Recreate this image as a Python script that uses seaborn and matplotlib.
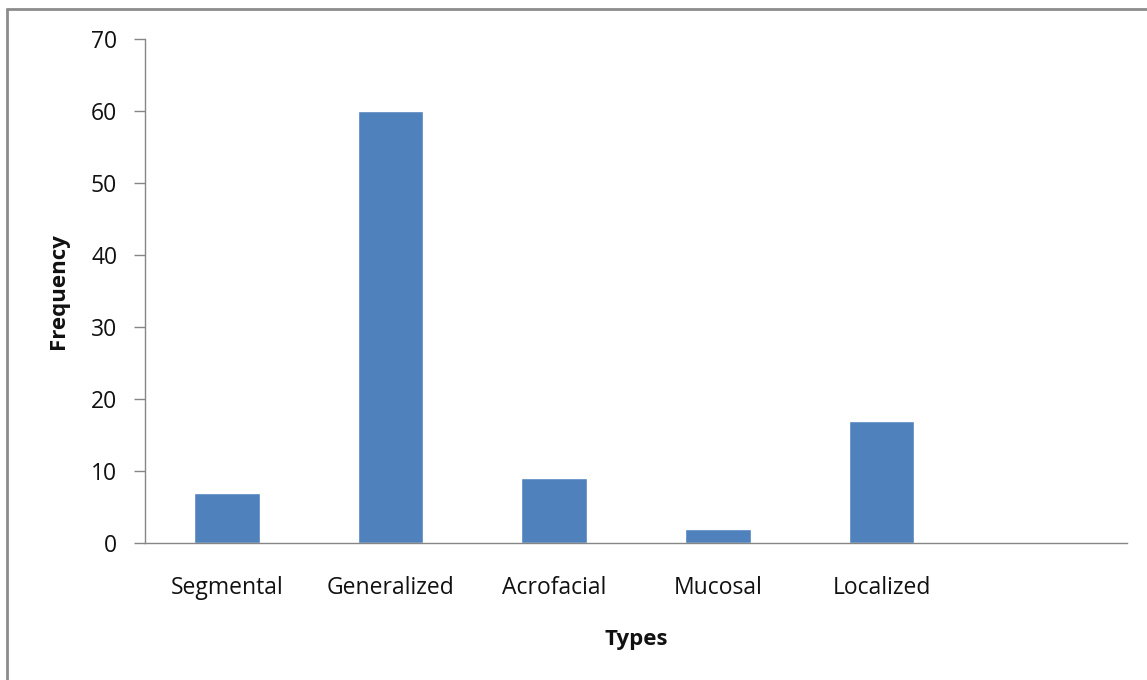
import matplotlib
matplotlib.use("Agg")
import matplotlib.pyplot as plt
from matplotlib.lines import Line2D
import seaborn as sns
import pandas as pd

categories = ["Segmental", "Generalized", "Acrofacial", "Mucosal", "Localized"]
frequency = [7, 60, 9, 2, 17]
y_ticks = [0, 10, 20, 30, 40, 50, 60, 70]

sns.set_theme(style="white")
plt.rcParams["font.family"] = ["Open Sans", "DejaVu Sans"]

df = pd.DataFrame({"Types": categories, "Frequency": frequency})

fig = plt.figure(figsize=(11.47, 6.8), dpi=100)
ax = fig.add_axes([145 / 1147, 137 / 680, (1127 - 145) / 1147, (543 - 39) / 680])

sns.barplot(data=df, x="Types", y="Frequency", order=categories,
            color="#4f81bd", saturation=1, width=0.4, ax=ax)

ax.set_xlim(-0.5, 5.5)
ax.set_ylim(0, 70)
ax.set_yticks(y_ticks)
ax.set_yticklabels([str(v) for v in y_ticks])

axis_grey = "#868686"
for side in ["top", "right"]:
    ax.spines[side].set_visible(False)
for side in ["left", "bottom"]:
    ax.spines[side].set_visible(True)
    ax.spines[side].set_color(axis_grey)
    ax.spines[side].set_linewidth(1.0)

ax.tick_params(axis="y", which="major", direction="out", length=8, width=1,
               color=axis_grey, left=True, labelsize=16.5, labelcolor="#111111", pad=12)
ax.tick_params(axis="x", which="major", bottom=False, labelsize=16.5,
               labelcolor="#111111", pad=17.5)

ax.set_xlabel("Types", fontsize=16, fontweight="bold", labelpad=21, color="#111111")
ax.set_ylabel("Frequency", fontsize=16, fontweight="bold", labelpad=16, color="#111111")

# outer frame on the top and left edges of the figure
frame_color = "#8c8c8c"
fig.add_artist(Line2D([7 / 1147, 1.0], [1 - 9 / 680, 1 - 9 / 680],
                      transform=fig.transFigure, color=frame_color, linewidth=2))
fig.add_artist(Line2D([7 / 1147, 7 / 1147], [0.0, 1 - 9 / 680],
                      transform=fig.transFigure, color=frame_color, linewidth=2))

fig.savefig("out.png", dpi=100, facecolor="white")
